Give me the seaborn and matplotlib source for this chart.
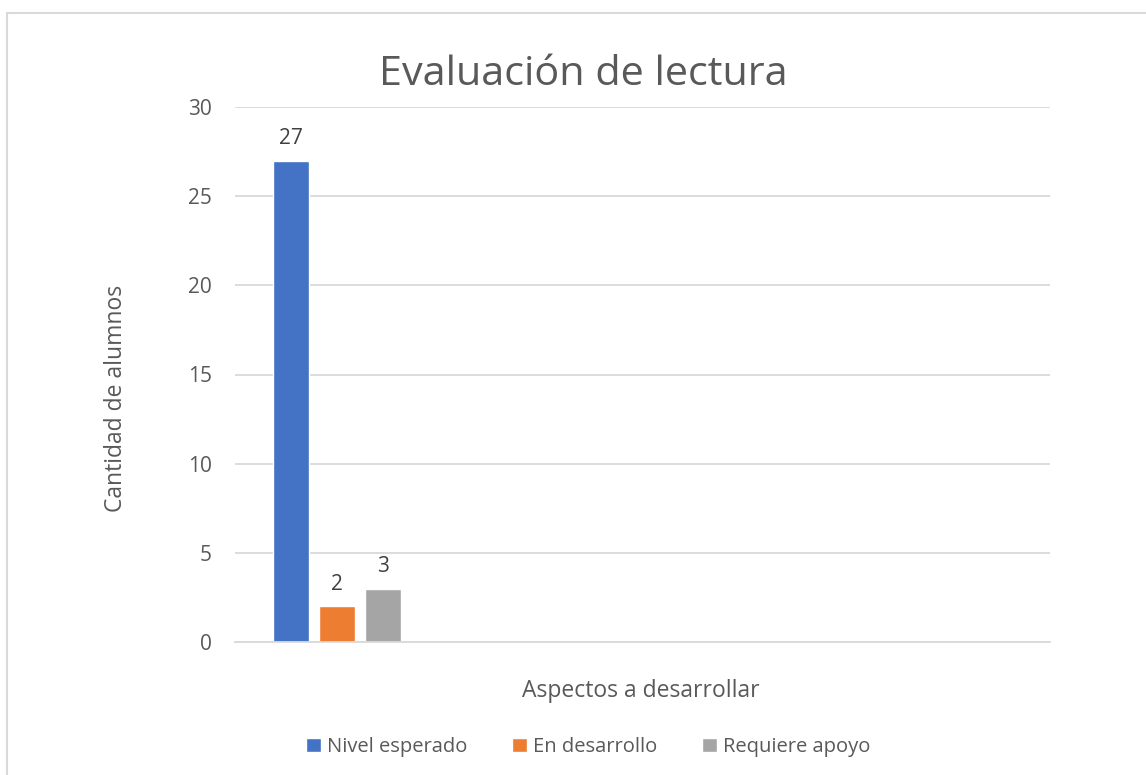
import matplotlib
matplotlib.use("Agg")
import matplotlib.pyplot as plt
from matplotlib.patches import Rectangle
import seaborn as sns
import pandas as pd

# data
category = ["Aspectos"]
levels = ["Nivel esperado", "En desarrollo", "Requiere apoyo"]
counts = [27, 2, 3]
colors = ["#4472C4", "#ED7D31", "#A5A5A5"]

df = pd.DataFrame({"aspecto": category * len(levels), "nivel": levels, "alumnos": counts})

sns.set_theme(style="white")
plt.rcParams["font.family"] = ["Open Sans", "DejaVu Sans"]
txt = "#595959"

fig = plt.figure(figsize=(11.46, 7.75), dpi=100)
ax = fig.add_axes([235 / 1146, 1 - 642 / 775, 815 / 1146, 535 / 775])

sns.barplot(data=df, x="aspecto", y="alumnos", hue="nivel", hue_order=levels,
            palette=colors, width=0.677, gap=0.217, ax=ax, legend=True, saturation=1)

for c in ax.containers:
    ax.bar_label(c, padding=8, fontsize=15, color="#404040")

ax.set_xlim(-0.5, 3.5)
ax.set_ylim(0, 30)
ax.set_yticks(range(0, 31, 5))
ax.set_xticks([])
ax.yaxis.grid(True, color="#D9D9D9", linewidth=1.3)
ax.set_axisbelow(True)
for s in ["top", "right", "left"]:
    ax.spines[s].set_visible(False)
ax.spines["bottom"].set_color("#D9D9D9")
ax.spines["bottom"].set_linewidth(1.3)
ax.tick_params(axis="y", length=0, labelsize=15, labelcolor=txt, pad=16.5)

ax.set_xlabel("Aspectos a desarrollar", fontsize=16.5, color=txt)
ax.xaxis.set_label_coords(0.498, -0.069)
ax.set_ylabel("Cantidad de alumnos", fontsize=16.5, color=txt)
ax.yaxis.set_label_coords(-0.131, 0.456)

fig.text(583 / 1146, 1 - 75 / 775, "Evaluación de lectura", fontsize=29.8,
         color=txt, ha="center", va="center")

ax.legend(loc="center", bbox_to_anchor=(588 / 1146, 1 - 747 / 775),
          bbox_transform=fig.transFigure, ncol=3, frameon=False, fontsize=14.5,
          labelcolor=txt, handlelength=0.75, handleheight=0.75, handletextpad=0.3,
          columnspacing=2.2)

fig.patches.append(Rectangle((7 / 1146, -0.1), 1.2, 1.1 - 13 / 775,
                             transform=fig.transFigure, fill=False,
                             edgecolor="#D9D9D9", linewidth=1.5))

fig.savefig("out.png", dpi=100)
